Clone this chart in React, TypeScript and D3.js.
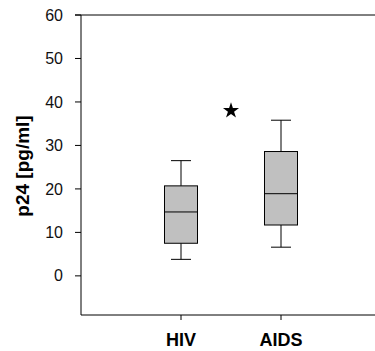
import * as d3 from "d3";

// groups and their box statistics
const groups = ["HIV", "AIDS"];
const groupPos = [1, 2];
const whiskerLow = [3.8, 6.6];
const q1 = [7.5, 11.7];
const median = [14.7, 18.9];
const q3 = [20.7, 28.6];
const whiskerHigh = [26.5, 35.8];

// significance marker between the groups
const starPos = 1.5;
const starValue = 38;

const yTicks = [0, 10, 20, 30, 40, 50, 60];
const yLabel = "p24 [pg/ml]";

export default function App() {
  const width = 375;
  const height = 351;
  const left = 81;
  const top = 15;
  const bottom = 315;

  const x = d3.scaleLinear().domain([0, 3]).range([left, left + 300]);
  const y = d3.scaleLinear().domain([-9, 60]).range([bottom, top]);

  const boxW = x(0.33) - x(0);
  const capW = x(0.2) - x(0);
  const font = "'Liberation Sans', Arial, Helvetica, sans-serif";
  const star = d3.symbol().type(d3.symbolStar).size(80)();

  return (
    <div style={{ position: "absolute", left: 0, top: 0 }}>
      <svg width={width} height={height} style={{ display: "block" }} fontFamily={font}>
        {/* frame: left axis, top line, bottom axis */}
        <line x1={left} x2={left} y1={top} y2={bottom} stroke="#000" />
        <line x1={left - 6} x2={width} y1={y(60)} y2={y(60)} stroke="#000" />
        <line x1={left} x2={width} y1={bottom} y2={bottom} stroke="#000" />

        {yTicks.map((t) => (
          <g key={t}>
            <line x1={left - 6} x2={left} y1={y(t)} y2={y(t)} stroke="#000" />
            <text x={left - 18} y={y(t)} dy="0.35em" textAnchor="end" fontSize={16} fill="#111">
              {t}
            </text>
          </g>
        ))}

        {groups.map((g, i) => (
          <g key={g}>
            <line x1={x(groupPos[i])} x2={x(groupPos[i])} y1={bottom} y2={bottom + 5} stroke="#000" />
            <text x={x(groupPos[i])} y={bottom + 31} textAnchor="middle" fontSize={18} fontWeight="bold" fill="#000">
              {g}
            </text>
          </g>
        ))}

        <text
          transform={`translate(29, ${(top + bottom) / 2 + 1}) rotate(-90)`}
          textAnchor="middle"
          fontSize={19}
          fontWeight="bold"
          fill="#000"
        >
          {yLabel}
        </text>

        {groups.map((g, i) => {
          const cx = x(groupPos[i]);
          return (
            <g key={g + "-box"} stroke="#000" strokeWidth={1}>
              <line x1={cx} x2={cx} y1={y(whiskerHigh[i])} y2={y(q3[i])} />
              <line x1={cx} x2={cx} y1={y(q1[i])} y2={y(whiskerLow[i])} />
              <line x1={cx - capW / 2} x2={cx + capW / 2} y1={y(whiskerHigh[i])} y2={y(whiskerHigh[i])} />
              <line x1={cx - capW / 2} x2={cx + capW / 2} y1={y(whiskerLow[i])} y2={y(whiskerLow[i])} />
              <rect
                x={cx - boxW / 2}
                y={y(q3[i])}
                width={boxW}
                height={y(q1[i]) - y(q3[i])}
                fill="#c0c0c0"
              />
              <line x1={cx - boxW / 2} x2={cx + boxW / 2} y1={y(median[i])} y2={y(median[i])} />
            </g>
          );
        })}

        <path d={star ?? ""} transform={`translate(${x(starPos)}, ${y(starValue)})`} fill="#000" />
      </svg>
    </div>
  );
}
